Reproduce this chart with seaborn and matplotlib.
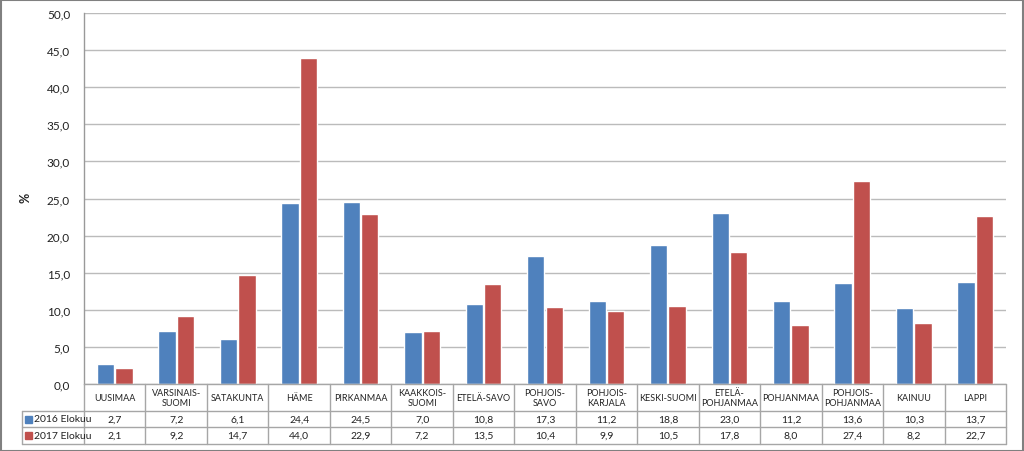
import numpy as np
import pandas as pd
import matplotlib
matplotlib.use("Agg")
import matplotlib.pyplot as plt
import seaborn as sns
from matplotlib.transforms import blended_transform_factory
from matplotlib.patches import Rectangle

regions = ["UUSIMAA", "VARSINAIS-\nSUOMI", "SATAKUNTA", "HÄME", "PIRKANMAA",
           "KAAKKOIS-\nSUOMI", "ETELÄ-SAVO", "POHJOIS-\nSAVO", "POHJOIS-\nKARJALA",
           "KESKI-SUOMI", "ETELÄ-\nPOHJANMAA", "POHJANMAA", "POHJOIS-\nPOHJANMAA",
           "KAINUU", "LAPPI"]
series_names = ["2016 Elokuu", "2017 Elokuu"]
values_2016 = [2.7, 7.2, 6.1, 24.4, 24.5, 7.0, 10.8, 17.3, 11.2, 18.8, 23.0, 11.2, 13.6, 10.3, 13.7]
values_2017 = [2.1, 9.2, 14.7, 44.0, 22.9, 7.2, 13.5, 10.4, 9.9, 10.5, 17.8, 8.0, 27.4, 8.2, 22.7]
y_ticks = [0, 5, 10, 15, 20, 25, 30, 35, 40, 45, 50]

colors = ["#4F81BD", "#C0504D"]

df = pd.DataFrame({
    "region": regions * 2,
    "series": [series_names[0]] * len(regions) + [series_names[1]] * len(regions),
    "value": values_2016 + values_2017,
})

sns.set_theme(style="white")
plt.rcParams["font.family"] = ["Lato", "DejaVu Sans"]

W, H = 1024, 452
fig = plt.figure(figsize=(W / 100, H / 100), dpi=100)
left, right, top, bottom = 84, 1006, 14, 385
ax = fig.add_axes([left / W, 1 - bottom / H, (right - left) / W, (bottom - top) / H])

sns.barplot(data=df, x="region", y="value", hue="series", palette=colors,
            order=regions, hue_order=series_names, width=0.6, gap=0.06,
            saturation=1, ax=ax, legend=False)

ax.set_ylim(0, 50)
ax.set_xlim(-0.5, len(regions) - 0.5)
ax.set_yticks(y_ticks)
ax.set_yticklabels([f"{v:.1f}".replace(".", ",") for v in y_ticks], fontsize=8.5, color="#222222")
ax.yaxis.grid(True, color="#BBBBBB", linewidth=1)
ax.set_axisbelow(True)
ax.set_xticks([])
ax.set_xlabel("")
ax.set_ylabel("")
ax.tick_params(axis="y", length=0, pad=10)
for s in ["top", "right", "bottom"]:
    ax.spines[s].set_visible(False)
ax.spines["left"].set_color("#999999")
ax.spines["left"].set_linewidth(1)

# data table below
def fy(py):
    return 1 - py / H

def fx(px):
    return px / W

fig.text(fx(25), fy(198), "%", rotation=90, ha="center", va="center",
         fontsize=9, fontweight="bold", color="#222222")

tr = blended_transform_factory(ax.transData, fig.transFigure)
line_c = "#A6A6A6"
y_axis, y_r1, y_r2, y_end = 385, 412, 428, 445
tab_left = 22

# horizontal lines
fig.add_artist(plt.Line2D([fx(left), fx(right)], [fy(y_axis), fy(y_axis)], color=line_c, lw=1))
for yy in [y_r1, y_r2, y_end]:
    fig.add_artist(plt.Line2D([fx(tab_left), fx(right)], [fy(yy), fy(yy)], color=line_c, lw=1))
# vertical lines
fig.add_artist(plt.Line2D([fx(tab_left), fx(tab_left)], [fy(y_r1), fy(y_end)], color=line_c, lw=1))
for i in range(len(regions) + 1):
    xb = i - 0.5
    fig.add_artist(plt.Line2D([xb, xb], [fy(y_axis), fy(y_end)], color=line_c, lw=1, transform=tr))

for i, name in enumerate(regions):
    fig.text(i, fy((y_axis + y_r1) / 2), name, transform=tr, ha="center", va="center",
             fontsize=6.5, color="#222222", linespacing=1.15)
    fig.text(i, fy((y_r1 + y_r2) / 2), f"{values_2016[i]:.1f}".replace(".", ","), transform=tr,
             ha="center", va="center", fontsize=7.5, color="#222222")
    fig.text(i, fy((y_r2 + y_end) / 2), f"{values_2017[i]:.1f}".replace(".", ","), transform=tr,
             ha="center", va="center", fontsize=7.5, color="#222222")

for k, (name, c) in enumerate(zip(series_names, colors)):
    yc = (y_r1 + y_r2) / 2 if k == 0 else (y_r2 + y_end) / 2
    fig.add_artist(Rectangle((fx(25), fy(yc + 3.5)), 7 / W, 7 / H, color=c, transform=fig.transFigure))
    fig.text(fx(34), fy(yc), name, ha="left", va="center", fontsize=7.5, color="#222222")

# outer frame
fig.add_artist(Rectangle((0.5 / W, 0.5 / H), (W - 1.5) / W, (H - 1.5) / H, fill=False,
                         edgecolor="#808080", lw=1.5, transform=fig.transFigure))

fig.savefig("out.png", dpi=100)
